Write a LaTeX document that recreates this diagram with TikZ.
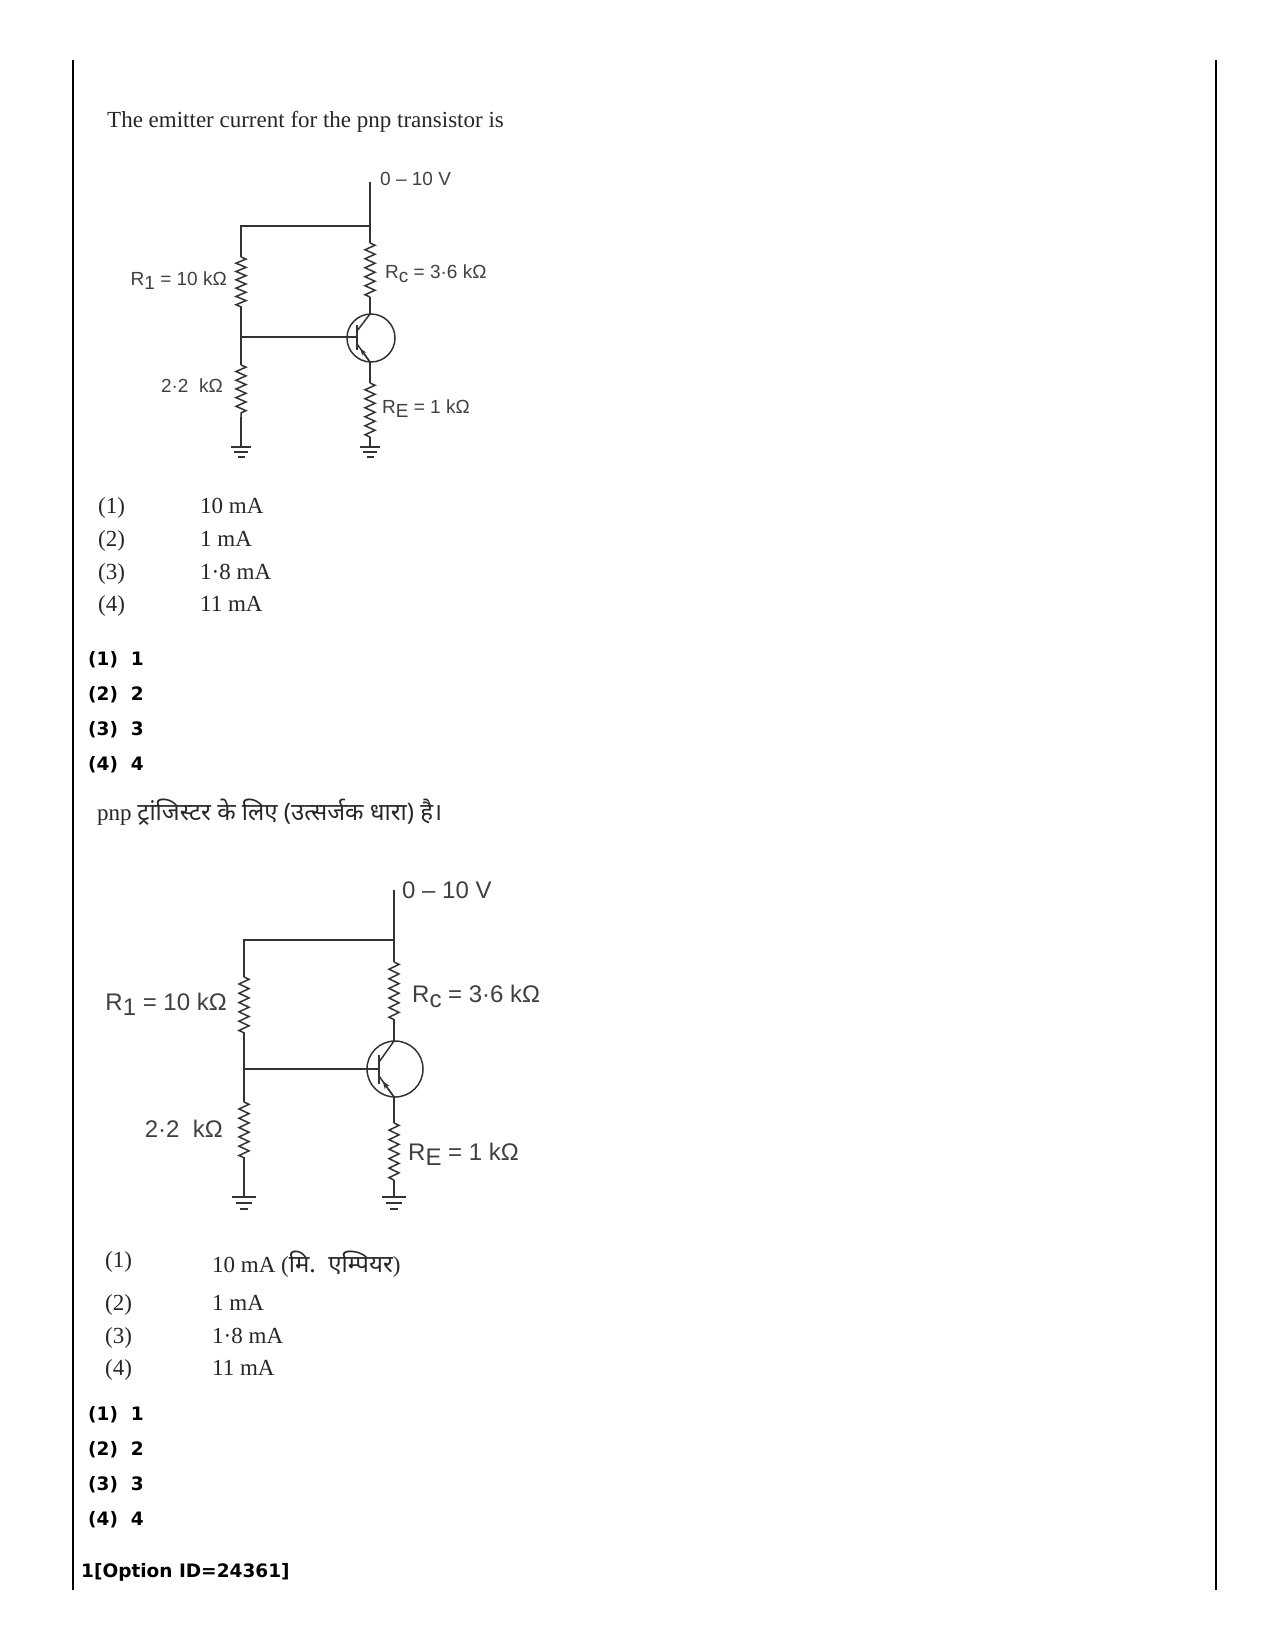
\documentclass[tikz,border=0pt]{standalone}
\usepackage{fontspec}
\setmainfont{Liberation Serif}
\newfontfamily\circfont{Liberation Sans}
\newfontfamily\boldfont{DejaVu Sans}
\newfontfamily\hindi[Script=Devanagari]{Noto Sans}
\usetikzlibrary{decorations.pathmorphing,arrows.meta,calc}
\newcommand{\lsub}[1]{\raisebox{-0.4ex}{#1}}
\tikzset{
  wire/.style={line width=1.5pt, draw=black!80},
  res/.style={wire, decorate, decoration={zigzag, segment length=#1, amplitude=5pt}},
  res/.default=9pt,
  txt/.style={anchor=base west, inner sep=0pt, font=\fontsize{23}{26}\selectfont, text=black!85},
  bold/.style={anchor=base west, inner sep=0pt, font=\fontsize{18.5}{22}\boldfont\bfseries},
  clab/.style={inner sep=0pt, font=\fontsize{#1}{#1}\circfont, text=black!75},
}
\newcommand{\gnd}[2]{%
  \draw[wire] ($(#1)+(-10*#2,0)$) -- ($(#1)+(10*#2,0)$);
  \draw[wire] ($(#1)+(-7*#2,5*#2)$) -- ($(#1)+(7*#2,5*#2)$);
  \draw[wire] ($(#1)+(-3.5*#2,10*#2)$) -- ($(#1)+(3.5*#2,10*#2)$);}
\begin{document}
\begin{tikzpicture}[x=1pt,y=-1pt]
\useasboundingbox (0,0) rectangle (1275,1651);
\draw[line width=2.5pt] (73,60) coordinate (bl1) -- (73,1590) coordinate (bl2);
\draw[line width=2.5pt] (1216,60) coordinate (br1) -- (1216,1590) coordinate (br2);

\node[txt] (q1) at (107,128) {The emitter current for the pnp transistor is};

% ---------- circuit 1 ----------
\coordinate (s1) at (370,182);
\coordinate (t1) at (370,226);
\coordinate (l1) at (241,226);
\coordinate (r1a) at (241,257); \coordinate (r1b) at (241,307);
\coordinate (j1) at (241,337);
\coordinate (r2a) at (241,365); \coordinate (r2b) at (241,417);
\coordinate (g1) at (241,447);
\coordinate (rca) at (370,243); \coordinate (rcb) at (370,297);
\coordinate (c1) at (370,314);
\coordinate (e1) at (370,362);
\coordinate (rea) at (370,383); \coordinate (reb) at (370,437);
\coordinate (g2) at (370,447);
\coordinate (b1) at (357,337);
\draw[wire] (s1) -- (t1) -- (l1) -- (r1a);
\draw[res=8.3pt] (r1a) -- (r1b);
\draw[wire] (r1b) -- (j1) -- (r2a);
\draw[res=8.7pt] (r2a) -- (r2b);
\draw[wire] (r2b) -- (g1);
\draw[wire] (t1) -- (rca);
\draw[res=9pt] (rca) -- (rcb);
\draw[wire] (rcb) -- (c1);
\draw[wire] (371,338) circle (24);
\draw[wire] (j1) -- (b1);
\draw[wire] (357,325) -- (357,350);
\draw[wire] (357,331) -- (c1);
\draw[wire] (e1) -- (357,344);
\draw[wire,-{Stealth[length=7pt,width=5pt]}] (e1) -- ($(e1)!0.75!(357,344)$);
\draw[wire] (e1) -- (rea);
\draw[res=9pt] (rea) -- (reb);
\draw[wire] (reb) -- (g2);
\gnd{g1}{1}
\gnd{g2}{1}
\node[clab=19, anchor=base west] at (380,185) {0 – 10 V};
\node[clab=19, anchor=base east] at (227,285) {R\lsub{1} = 10 kΩ};
\node[clab=19, anchor=base west] at (385,278) {R\lsub{c} = 3·6 kΩ};
\node[clab=19, anchor=base east] at (223,392) {2·2\ \ kΩ};
\node[clab=19, anchor=base west] at (382,413) {R\lsub{E} = 1 kΩ};

\foreach \n/\v/\y in {1/10 mA/513, 2/1 mA/546, 3/1·8 mA/579, 4/11 mA/611}{
  \node[txt] (oa\n) at (98,\y) {(\n)};
  \node[txt] (ob\n) at (200,\y) {\v};
}
\foreach \n/\y in {1/665, 2/700, 3/735, 4/770}{
  \node[bold] (ans\n) at (88,\y) {(\n)\ \ \n};
}
\node[txt] (q2) at (97,820) {pnp {\fontsize{24}{26}\hindi ट्रांजिस्टर के लिए (उत्सर्जक धारा) है।}};

% ---------- circuit 2 ----------
\coordinate (S1) at (394,890);
\coordinate (T1) at (394,940);
\coordinate (L1) at (244,940);
\coordinate (R1a) at (244,977); \coordinate (R1b) at (244,1033);
\coordinate (J1) at (244,1069);
\coordinate (R2a) at (244,1102); \coordinate (R2b) at (244,1158);
\coordinate (G1) at (244,1197);
\coordinate (RCa) at (394,962); \coordinate (RCb) at (394,1020);
\coordinate (C1) at (394,1041);
\coordinate (E1) at (394,1097);
\coordinate (REa) at (394,1123); \coordinate (REb) at (394,1180);
\coordinate (G2) at (394,1197);
\coordinate (B1) at (379,1069);
\draw[wire] (S1) -- (T1) -- (L1) -- (R1a);
\draw[res=9.3pt] (R1a) -- (R1b);
\draw[wire] (R1b) -- (J1) -- (R2a);
\draw[res=9.3pt] (R2a) -- (R2b);
\draw[wire] (R2b) -- (G1);
\draw[wire] (T1) -- (RCa);
\draw[res=9.6pt] (RCa) -- (RCb);
\draw[wire] (RCb) -- (C1);
\draw[wire] (395,1069) circle (28);
\draw[wire] (J1) -- (B1);
\draw[wire] (379,1055) -- (379,1084);
\draw[wire] (379,1062) -- (C1);
\draw[wire] (E1) -- (379,1076);
\draw[wire,-{Stealth[length=8pt,width=6pt]}] (E1) -- ($(E1)!0.75!(379,1076)$);
\draw[wire] (E1) -- (REa);
\draw[res=9.5pt] (REa) -- (REb);
\draw[wire] (REb) -- (G2);
\gnd{G1}{1.2}
\gnd{G2}{1.2}
\node[clab=24, anchor=base west] at (402,898) {0 – 10 V};
\node[clab=24, anchor=base east] at (227,1010) {R\lsub{1} = 10 kΩ};
\node[clab=24, anchor=base west] at (412,1002) {R\lsub{c} = 3·6 kΩ};
\node[clab=24, anchor=base east] at (223,1137) {2·2\ \ kΩ};
\node[clab=24, anchor=base west] at (408,1160) {R\lsub{E} = 1 kΩ};

\node[txt] (pa1) at (105,1267) {(1)};
\node[txt] (pb1) at (212,1272) {10 mA ({\fontsize{24}{26}\hindi मि.\ \ एम्पियर})};
\foreach \n/\v/\y in {2/1 mA/1310, 3/1·8 mA/1343, 4/11 mA/1375}{
  \node[txt] (pa\n) at (105,\y) {(\n)};
  \node[txt] (pb\n) at (212,\y) {\v};
}
\foreach \n/\y in {1/1420, 2/1455, 3/1490, 4/1525}{
  \node[bold] (bns\n) at (88,\y) {(\n)\ \ \n};
}
\node[bold] (oid) at (81,1577) {1[Option ID=24361]};
\end{tikzpicture}
\end{document}
